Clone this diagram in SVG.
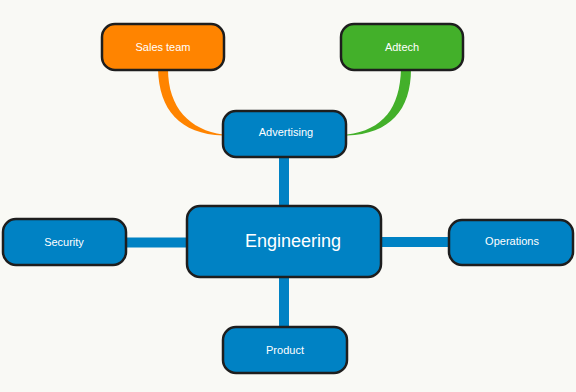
<svg xmlns="http://www.w3.org/2000/svg" width="576" height="392" viewBox="0 0 576 392">
<style>
.node rect{stroke:#1e1e1e;stroke-width:2.5}
.blue rect{fill:#0082c4}
.t{fill:#fff;font-family:"Liberation Sans",Arial,sans-serif;font-size:11px;text-anchor:middle}
.big{font-size:18px}
.link{stroke:#0082c4;stroke-width:10;fill:none}
</style>
<rect width="576" height="392" fill="#f9f9f5"/>
<g id="connectors">
<line class="link" x1="284" y1="156" x2="284" y2="207"/>
<line class="link" x1="284" y1="277" x2="284" y2="328"/>
<line class="link" x1="125" y1="242.5" x2="188" y2="242.5"/>
<line class="link" x1="380" y1="242" x2="450" y2="242"/>
<path d="M158,69 C159,110 180,134 223,135.5 L223,134.5 C190,130 168,108 168,69 Z" fill="#ff8400"/>
<path d="M401,69 C400,108 383,130 347,134.5 L347,135.5 C390,134 411,110 411,69 Z" fill="#43b02a"/>
</g>
<g id="sales-team" class="node"><rect x="102" y="24" width="122" height="46" rx="13" fill="#ff8400"/><text class="t" x="163" y="51">Sales team</text></g>
<g id="adtech" class="node"><rect x="341" y="24" width="122" height="46" rx="13" fill="#43b02a"/><text class="t" x="402" y="51">Adtech</text></g>
<g id="advertising" class="node blue"><rect x="223" y="111" width="123" height="46" rx="13"/><text class="t" x="286" y="136">Advertising</text></g>
<g id="engineering" class="node blue"><rect x="187" y="206" width="194" height="71" rx="13"/><text class="t big" x="293" y="247">Engineering</text></g>
<g id="security" class="node blue"><rect x="3" y="219" width="123" height="46" rx="13"/><text class="t" x="64" y="246">Security</text></g>
<g id="operations" class="node blue"><rect x="449" y="220" width="124" height="45" rx="13"/><text class="t" x="512" y="245">Operations</text></g>
<g id="product" class="node blue"><rect x="223" y="327" width="124" height="46" rx="13"/><text class="t" x="285" y="354">Product</text></g>
</svg>
